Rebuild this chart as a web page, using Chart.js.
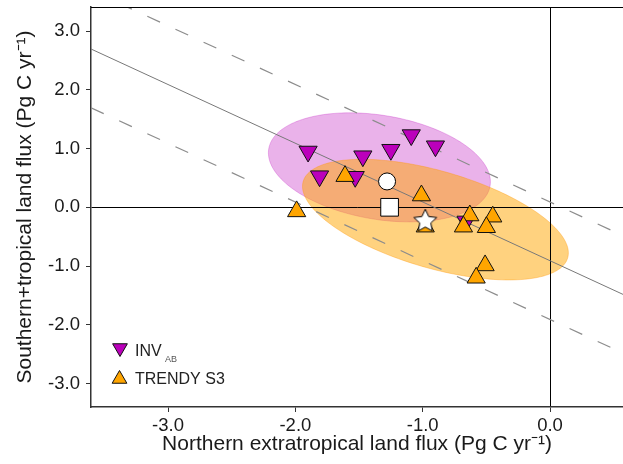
<!DOCTYPE html>
<html>
<head>
<meta charset="utf-8">
<script src="https://cdn.jsdelivr.net/npm/chart.js@4.4.1/dist/chart.umd.min.js"></script>
<style>
  html, body { margin: 0; padding: 0; background: #fff; }
</style>
</head>
<body>
<canvas id="fluxChart" width="623" height="464"></canvas>
<script>
// Northern extratropical (x) vs southern+tropical (y) land flux, Pg C yr-1
const invX = [-1.90, -1.81, -1.47, -1.53, -1.25, -1.09, -0.90, -0.66];
const invY = [0.95, 0.53, 0.87, 0.52, 0.98, 1.23, 1.04, -0.24];
const trendyX = [-1.99, -1.61, -1.01, -0.98, -0.63, -0.45, -0.68, -0.50, -0.51, -0.58];
const trendyY = [-0.07, 0.53, 0.20, -0.33, -0.14, -0.16, -0.33, -0.34, -0.99, -1.20];

// single reference estimates (circle, square, star)
const circlePoint = [-1.28, 0.44];
const squarePoint = [-1.26, 0.00];
const starPoint = [-0.98, -0.22];

// total land flux constraint: y = total - x, with +/- band
const totalFlux = -0.91;
const totalBand = 1.0;

// spread ellipses: centre and [varX, varY, covXY]
const invCenter = [-1.34, 0.68];
const invCov = [0.760, 0.862, -0.216];
const trendyCenter = [-0.90, -0.21];
const trendyCov = [1.090, 1.055, -0.592];

const xTicks = [-3, -2, -1, 0];
const yTicks = [-3, -2, -1, 0, 1, 2, 3];
const xMin = -3.605, xMax = 0.573;
const yMin = -3.40, yMax = 3.41;

const FONT = "'Liberation Sans', Arial, sans-serif";
const PURPLE = 'rgb(187,0,187)';
const ORANGE = 'rgb(255,165,0)';

function toPoints(xs, ys) {
  return xs.map((v, i) => ({ x: v, y: ys[i] }));
}

function constraintLine(offset) {
  return [xMin, xMax].map(v => ({ x: v, y: totalFlux + offset - v }));
}

// white five-point star used as a point style
function makeStar(outer, inner) {
  const c = document.createElement('canvas');
  const size = Math.ceil(outer * 2 + 4);
  c.width = size;
  c.height = size;
  const g = c.getContext('2d');
  g.beginPath();
  for (let i = 0; i < 10; i++) {
    const r = i % 2 === 0 ? outer : inner;
    const a = -Math.PI / 2 + i * Math.PI / 5;
    const px = size / 2 + r * Math.cos(a);
    const py = size / 2 + 1 + r * Math.sin(a);
    if (i === 0) g.moveTo(px, py); else g.lineTo(px, py);
  }
  g.closePath();
  g.fillStyle = '#fff';
  g.fill();
  g.lineWidth = 1;
  g.strokeStyle = '#000';
  g.stroke();
  return c;
}

function drawEllipse(chart, center, cov, fill, stroke) {
  const { ctx, chartArea, scales } = chart;
  const l11 = Math.sqrt(cov[0]);
  const l21 = cov[2] / l11;
  const l22 = Math.sqrt(cov[1] - l21 * l21);
  ctx.save();
  ctx.beginPath();
  ctx.rect(chartArea.left, chartArea.top, chartArea.right - chartArea.left, chartArea.bottom - chartArea.top);
  ctx.clip();
  ctx.beginPath();
  for (let i = 0; i <= 180; i++) {
    const t = i / 180 * 2 * Math.PI;
    const px = scales.x.getPixelForValue(center[0] + l11 * Math.cos(t));
    const py = scales.y.getPixelForValue(center[1] + l21 * Math.cos(t) + l22 * Math.sin(t));
    if (i === 0) ctx.moveTo(px, py); else ctx.lineTo(px, py);
  }
  ctx.closePath();
  ctx.fillStyle = fill;
  ctx.fill();
  ctx.lineWidth = 1;
  ctx.strokeStyle = stroke;
  ctx.stroke();
  ctx.restore();
}

function legendTriangle(ctx, x, y, r, down, fill) {
  const s = down ? -1 : 1;
  ctx.beginPath();
  ctx.moveTo(x, y - s * r);
  ctx.lineTo(x + r * 0.866, y + s * r / 2);
  ctx.lineTo(x - r * 0.866, y + s * r / 2);
  ctx.closePath();
  ctx.fillStyle = fill;
  ctx.fill();
  ctx.lineWidth = 1;
  ctx.strokeStyle = '#111';
  ctx.stroke();
}

const backdrop = {
  id: 'backdrop',
  beforeDraw(chart) {
    drawEllipse(chart, invCenter, invCov, 'rgba(187,0,187,0.3)', 'rgba(187,0,187,0.25)');
    drawEllipse(chart, trendyCenter, trendyCov, 'rgba(255,165,0,0.5)', 'rgba(255,150,0,0.35)');
  },
  afterDraw(chart) {
    const { ctx, chartArea } = chart;
    ctx.save();
    // top frame line
    ctx.beginPath();
    ctx.moveTo(chartArea.left, chartArea.top + 0.5);
    ctx.lineTo(chartArea.right, chartArea.top + 0.5);
    ctx.strokeStyle = '#000';
    ctx.lineWidth = 1;
    ctx.stroke();

    // legend
    legendTriangle(ctx, 120, 348, 8.5, true, PURPLE);
    legendTriangle(ctx, 119.5, 379, 8.5, false, ORANGE);
    ctx.fillStyle = '#222';
    ctx.textBaseline = 'alphabetic';
    ctx.font = '16px ' + FONT;
    ctx.fillText('INV', 135, 356);
    ctx.fillText('TRENDY S3', 135, 384);
    ctx.font = '9px ' + FONT;
    ctx.fillStyle = '#555';
    ctx.fillText('AB', 165, 362);
    ctx.restore();
  }
};

const axisColor = '#333';
const zeroGrid = c => (c.tick && c.tick.value === 0 ? '#000' : 'rgba(0,0,0,0)');

new Chart(document.getElementById('fluxChart'), {
  type: 'scatter',
  data: {
    datasets: [
      {
        label: 'white star',
        data: [{ x: starPoint[0], y: starPoint[1] }],
        pointStyle: makeStar(12, 5.8),
        order: 1
      },
      {
        label: 'white circle',
        data: [{ x: circlePoint[0], y: circlePoint[1] }],
        pointStyle: 'circle',
        pointRadius: 8.5,
        backgroundColor: '#fff',
        borderColor: '#000',
        borderWidth: 1,
        order: 1
      },
      {
        label: 'white square',
        data: [{ x: squarePoint[0], y: squarePoint[1] }],
        pointStyle: 'rect',
        pointRadius: 12.5,
        backgroundColor: '#fff',
        borderColor: '#000',
        borderWidth: 1,
        order: 1
      },
      {
        label: 'TRENDY S3',
        data: toPoints(trendyX, trendyY),
        pointStyle: 'triangle',
        pointRadius: 10.5,
        backgroundColor: ORANGE,
        borderColor: '#111',
        borderWidth: 1,
        order: 2
      },
      {
        label: 'INV AB',
        data: toPoints(invX, invY),
        pointStyle: 'triangle',
        rotation: 180,
        pointRadius: 10.5,
        backgroundColor: PURPLE,
        borderColor: '#111',
        borderWidth: 1,
        order: 3
      },
      {
        label: 'total',
        data: constraintLine(0),
        showLine: true,
        pointRadius: 0,
        borderColor: 'rgb(120,120,120)',
        borderWidth: 1,
        order: 10
      },
      {
        label: 'total + band',
        data: constraintLine(totalBand),
        showLine: true,
        pointRadius: 0,
        borderColor: 'rgb(140,140,140)',
        borderWidth: 1.2,
        borderDash: [14, 17],
        order: 10
      },
      {
        label: 'total - band',
        data: constraintLine(-totalBand),
        showLine: true,
        pointRadius: 0,
        borderColor: 'rgb(140,140,140)',
        borderWidth: 1.2,
        borderDash: [14, 17],
        order: 10
      }
    ]
  },
  options: {
    responsive: false,
    animation: false,
    events: [],
    devicePixelRatio: 1,
    layout: { autoPadding: false, padding: { top: 7, right: 0, left: 0, bottom: 0 } },
    plugins: {
      legend: { display: false },
      tooltip: { enabled: false }
    },
    scales: {
      x: {
        type: 'linear',
        min: xMin,
        max: xMax,
        afterBuildTicks: s => { s.ticks = xTicks.map(v => ({ value: v })); },
        afterFit: s => { s.height = 57; s.paddingLeft = 0; s.paddingRight = 0; },
        grid: { color: zeroGrid, lineWidth: 1, tickColor: axisColor, tickLength: 5 },
        border: { color: axisColor, width: 1.5 },
        ticks: {
          color: '#1a1a1a',
          font: { family: FONT, size: 18.5 },
          padding: 3,
          maxRotation: 0,
          callback: v => v.toFixed(1)
        },
        title: {
          display: true,
          text: 'Northern extratropical land flux (Pg C yr\u207B\u00B9)',
          color: '#1a1a1a',
          font: { family: FONT, size: 21 },
          padding: { top: 0, bottom: 7.5 }
        }
      },
      y: {
        type: 'linear',
        min: yMin,
        max: yMax,
        afterBuildTicks: s => { s.ticks = yTicks.map(v => ({ value: v })); },
        afterFit: s => { s.width = 91; s.paddingTop = 0; s.paddingBottom = 0; },
        grid: { color: zeroGrid, lineWidth: 1, tickColor: axisColor, tickLength: 5 },
        border: { color: axisColor, width: 1.5 },
        ticks: {
          color: '#1a1a1a',
          font: { family: FONT, size: 18.5 },
          padding: 6,
          callback: v => v.toFixed(1)
        },
        title: {
          display: true,
          text: 'Southern+tropical land flux (Pg C yr\u207B\u00B9)',
          color: '#1a1a1a',
          font: { family: FONT, size: 21 },
          padding: { top: 13, bottom: 0 }
        }
      }
    }
  },
  plugins: [backdrop]
});
</script>
</body>
</html>
